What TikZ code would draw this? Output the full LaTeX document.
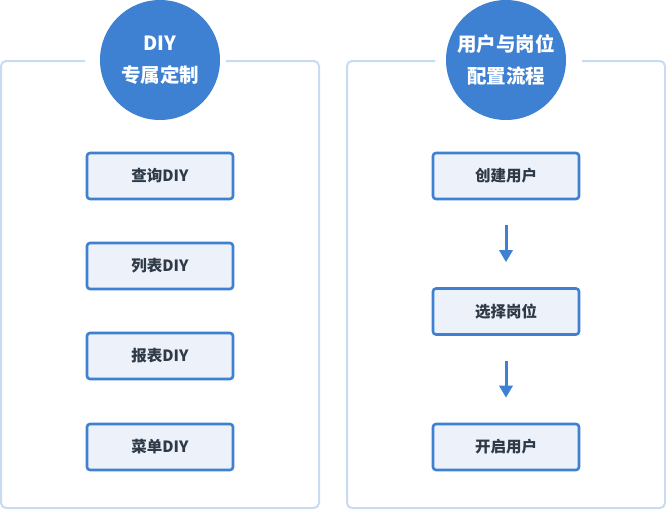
\documentclass[tikz,border=0pt]{standalone}
\usepackage{fontspec}
\setmainfont{Noto Sans CJK SC}
\usetikzlibrary{arrows.meta}
\definecolor{panelc}{HTML}{C8DBF1}
\definecolor{bluec}{HTML}{3E80D2}
\definecolor{boxfill}{HTML}{EDF2FA}
\definecolor{txtc}{HTML}{2F3A48}
\tikzset{
  panel/.style={draw=panelc,line width=2pt,rounded corners=5pt},
  head/.style={circle,fill=bluec,minimum size=120pt,inner sep=0pt,align=center,text=white,font=\fontsize{19.5}{32}\selectfont\bfseries},
  stepbox/.style={draw=bluec,fill=boxfill,line width=2.6pt,rounded corners=3pt,minimum width=146pt,minimum height=46pt,inner sep=0pt,text=txtc,font=\fontsize{15.5}{18}\selectfont\bfseries},
  arr/.style={draw=bluec,line width=3pt,-{Triangle[width=13pt,length=12pt]}}
}
\begin{document}
\begin{tikzpicture}[x=1pt,y=-1pt]
\useasboundingbox (0,0) rectangle (666,509);
% left panel
\coordinate (la) at (85,61);
\coordinate (lb) at (226,61);
\draw[panel] (la) -- (1,61) -- (1,508) -- (319,508) -- (319,61) -- (lb);
% right panel
\coordinate (ra) at (435,61);
\coordinate (rb) at (582,61);
\draw[panel] (ra) -- (347,61) -- (347,508) -- (665,508) -- (665,61) -- (rb);
% heads
\node[head] (h1) at (160,60) {DIY\\专属定制};
\node[head] (h2) at (506,60) {用户与岗位\\配置流程};
% left boxes
\node[stepbox] (l1) at (160,176) {查询DIY};
\node[stepbox] (l2) at (160,266) {列表DIY};
\node[stepbox] (l3) at (160,356) {报表DIY};
\node[stepbox] (l4) at (160,447) {菜单DIY};
% right boxes
\node[stepbox] (r1) at (506,176) {创建用户};
\node[stepbox] (r2) at (506,311.5) {选择岗位};
\node[stepbox] (r3) at (506,447) {开启用户};
\draw[arr] ([yshift=-25pt]r1.south) -- ([yshift=25pt]r2.north);
\draw[arr] ([yshift=-25pt]r2.south) -- ([yshift=25pt]r3.north);
\end{tikzpicture}
\end{document}
